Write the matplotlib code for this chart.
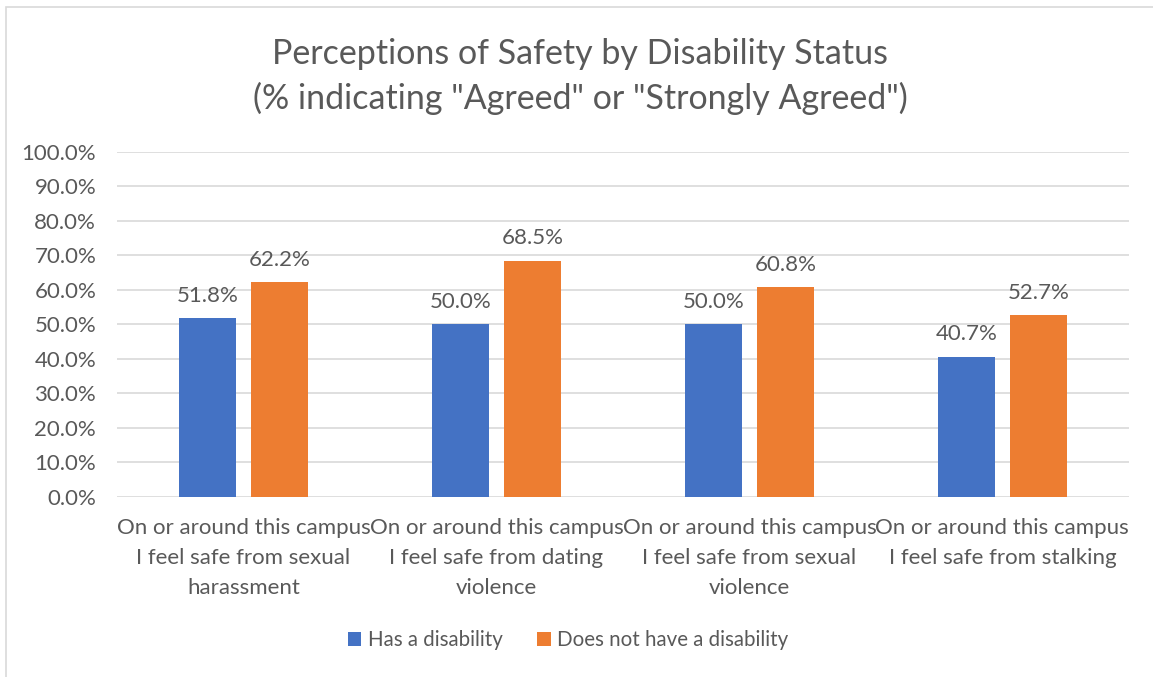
import matplotlib.pyplot as plt
import numpy as np
from matplotlib.patches import Rectangle
from matplotlib.ticker import PercentFormatter

categories = [
    "On or around this campus\nI feel safe from sexual\nharassment",
    "On or around this campus\nI feel safe from dating\nviolence",
    "On or around this campus\nI feel safe from sexual\nviolence",
    "On or around this campus\nI feel safe from stalking",
]
has_disability = [51.8, 50.0, 50.0, 40.7]
no_disability = [62.2, 68.5, 60.8, 52.7]
series_names = ["Has a disability", "Does not have a disability"]

blue = "#4472c4"
orange = "#ed7d31"
text_grey = "#595959"

plt.rcParams["font.family"] = ["Lato", "DejaVu Sans"]

fig = plt.figure(figsize=(11.53, 6.77), dpi=100)
ax = fig.add_axes([0.1015, 0.2659, 0.8775, 0.5096])

# outer chart frame
fig.patches.append(Rectangle((6 / 1153, -0.1), 1.2, 1 - 7 / 677 + 0.1,
                             transform=fig.transFigure, fill=False,
                             edgecolor="#d9d9d9", linewidth=1.2))

x = np.arange(len(categories))
width = 0.225
offset = 0.142
b1 = ax.bar(x - offset, has_disability, width, color=blue, label=series_names[0], zorder=3)
b2 = ax.bar(x + offset, no_disability, width, color=orange, label=series_names[1], zorder=3)

for bars in (b1, b2):
    ax.bar_label(bars, labels=['{:.1f}%'.format(v) for v in bars.datavalues],
                 padding=9, fontsize=16, color=text_grey)

ax.set_xlim(-0.5, 3.5)
ax.set_ylim(0, 100)
ax.set_yticks(np.arange(0, 101, 10))
ax.yaxis.set_major_formatter(PercentFormatter(decimals=1))
ax.grid(axis="y", color="#d9d9d9", linewidth=1.2, zorder=0)
for side in ["top", "right", "left", "bottom"]:
    ax.spines[side].set_visible(False)
ax.tick_params(axis="both", length=0, labelsize=16, labelcolor=text_grey)
ax.tick_params(axis="y", pad=15)
ax.tick_params(axis="x", pad=15)
ax.set_xticks(x)
ax.set_xticklabels(categories, linespacing=1.62)

fig.text(0.503, 0.887, 'Perceptions of Safety by Disability Status\n(% indicating "Agreed" or "Strongly Agreed")',
         ha="center", va="center", fontsize=24.5, color=text_grey, linespacing=1.45)

fig.legend(handles=[b1, b2], loc="center", bbox_to_anchor=(0.4927, 0.0547), ncol=2,
           frameon=False, fontsize=14.8, labelcolor=text_grey, handlelength=0.65,
           handleheight=0.65, handletextpad=0.3, columnspacing=1.7)

fig.savefig("out.png", dpi=100)
